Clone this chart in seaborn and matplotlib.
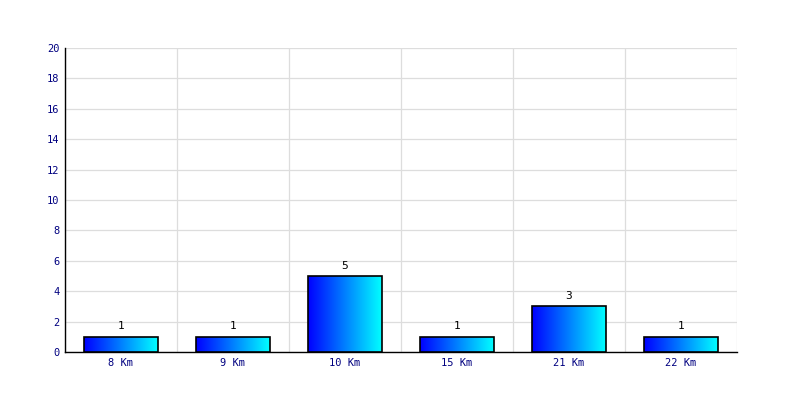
import numpy as np
import pandas as pd
import matplotlib
matplotlib.use('Agg')
import matplotlib.pyplot as plt
import seaborn as sns
from matplotlib.colors import LinearSegmentedColormap

# donnees
categories = ['8 Km', '9 Km', '10 Km', '15 Km', '21 Km', '22 Km']
valeurs = [1, 1, 5, 1, 3, 1]

df = pd.DataFrame({'distance': categories, 'nombre': valeurs})

sns.set_style('white')
plt.rcParams['font.family'] = ['DejaVu Sans Mono']

fig = plt.figure(figsize=(8, 4), dpi=100)
ax = fig.add_axes([0.08125, 0.12, 0.84, 0.76])

sns.barplot(data=df, x='distance', y='nombre', width=0.66, color='blue',
            edgecolor='black', linewidth=1.2, ax=ax, zorder=3)

# degrade bleu -> cyan dans chaque barre
cmap = LinearSegmentedColormap.from_list('bc', ['#0000ff', '#00ffff'])
grad = np.linspace(0, 1, 256).reshape(1, -1)
for p in ax.patches:
    x0, y0 = p.get_x(), p.get_y()
    w, h = p.get_width(), p.get_height()
    im = ax.imshow(grad, cmap=cmap, aspect='auto', extent=(x0, x0 + w, y0, y0 + h),
                   zorder=3.5)
    im.set_clip_path(p)
    p.set_facecolor('none')
    p.set_zorder(4)
    ax.text(x0 + w / 2, h + 0.35, str(int(h)), ha='center', va='bottom',
            fontsize=8, color='black', zorder=5)

ax.set_xlim(-0.5, len(categories) - 0.5)
ax.set_ylim(0, 20)
ax.set_yticks(range(0, 21, 2))
ax.set_xticks(np.arange(-0.5, len(categories), 1), minor=True)
ax.grid(True, axis='y', color='#dddddd', linewidth=0.9, zorder=0)
ax.grid(True, axis='x', which='minor', color='#dddddd', linewidth=0.9, zorder=0)
ax.grid(False, axis='x', which='major')
ax.tick_params(axis='both', which='both', length=0, labelsize=7.5,
               labelcolor='#000080', pad=4)
ax.set_xlabel('')
ax.set_ylabel('')

for s in ['top', 'right']:
    ax.spines[s].set_visible(False)
for s in ['left', 'bottom']:
    ax.spines[s].set_color('black')
    ax.spines[s].set_linewidth(1)

fig.savefig('out.png', dpi=100)
